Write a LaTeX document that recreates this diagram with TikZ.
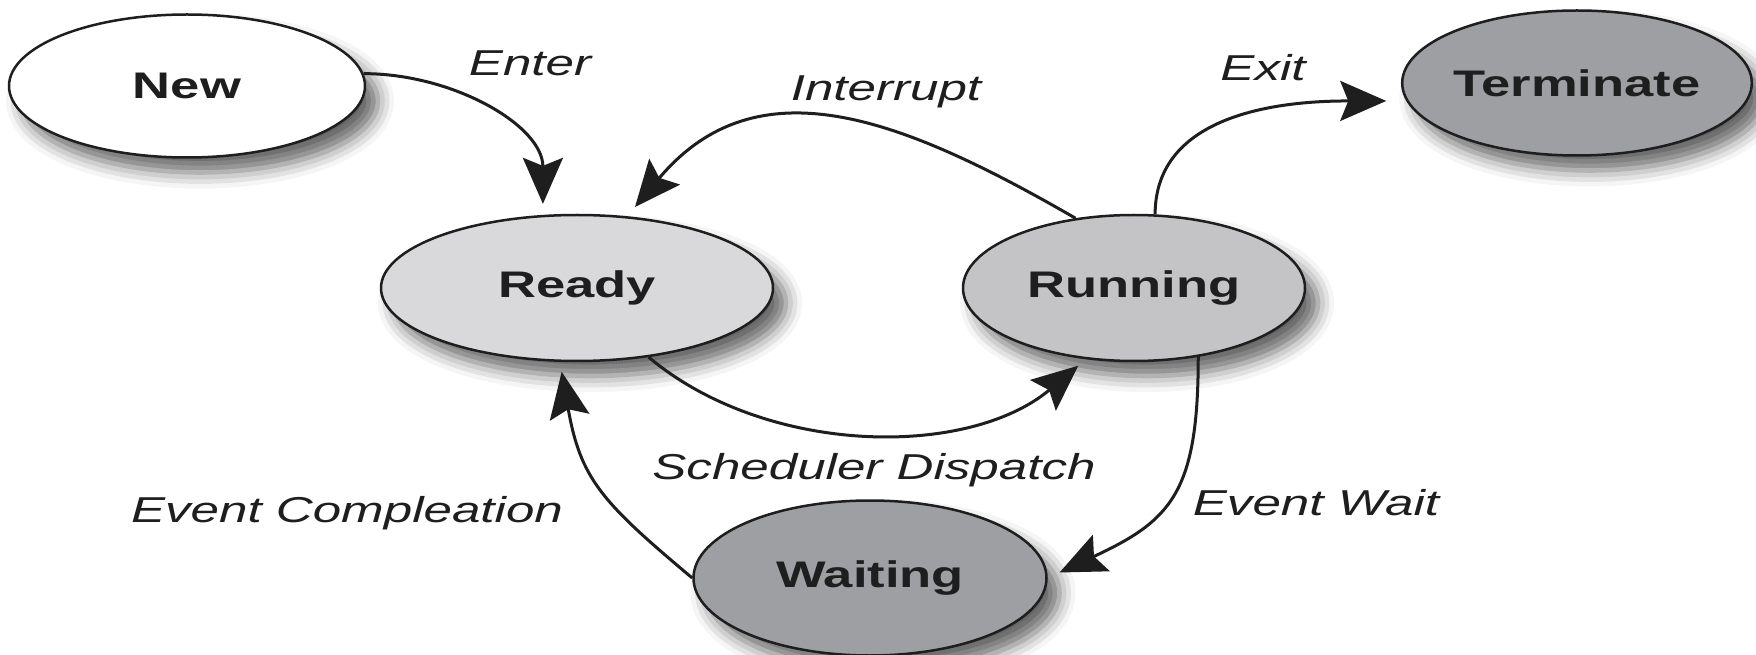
\documentclass[tikz,border=0pt]{standalone}
\usepackage{fontspec}
\setmainfont{Liberation Sans}[FakeStretch=1.42]
\usepackage{tikz}
\usetikzlibrary{arrows.meta,shapes.geometric,shadows.blur}
\definecolor{pstlight}{HTML}{D9D9DB}
\definecolor{pstmid}{HTML}{C4C4C7}
\definecolor{pstdark}{HTML}{9E9FA3}
\definecolor{pstink}{HTML}{1E1E1E}

\begin{document}
\begin{tikzpicture}[x=1pt,y=1pt, every node/.style={font=\fontsize{36}{40}\selectfont,text=pstink}]
\tikzset{state/.style={ellipse,draw=pstink,line width=2.5pt,inner sep=0pt,font=\fontsize{37}{40}\selectfont\bfseries,blur shadow={shadow xshift=13pt,shadow yshift=-15pt,shadow blur radius=16pt,shadow opacity=60}}, trans/.style={font=\fontsize{36}{40}\selectfont\itshape,anchor=base}, flow/.style={-{Stealth[length=46pt,width=40pt,inset=8pt]},line width=3pt,draw=pstink}}
\useasboundingbox (0,0) rectangle (1756,654);
\node[state,fill=white,minimum width=356pt,minimum height=143pt] (new) at (187,568) {New};
\node[state,fill=pstdark,minimum width=345pt,minimum height=145pt] (term) at (1577,571) {Terminate};
\node[state,fill=pstlight,minimum width=392pt,minimum height=146pt] (ready) at (577,366) {Ready};
\node[state,fill=pstmid,minimum width=342pt,minimum height=146pt] (run) at (1134,366) {Running};
\node[state,fill=pstdark,minimum width=353pt,minimum height=155pt] (wait) at (870,76) {Waiting};
\node[trans] (lenter) at (530,578) {Enter};
\node[trans] (lint) at (886,553) {Interrupt};
\node[trans] (lexit) at (1263,573) {Exit};
\node[trans] (ldisp) at (874,175) {Scheduler Dispatch};
\node[trans] (lcompl) at (347,132) {Event Compleation};
\node[trans] (lwait) at (1316,139) {Event Wait};
\draw[flow,shorten >=11pt] (new.4) to[out=0,in=90] (ready.115);
\draw[flow,shorten >=12pt] (run.130) to[out=150,in=50,looseness=1.15] (ready.55);
\draw[flow,shorten >=20pt] (run.74) to[out=90,in=180] (term.186);
\draw[flow,shorten >=10pt] (ready.-44) to[out=-40,in=-140,looseness=0.9] (run.236);
\draw[flow,shorten >=10pt] (wait.west) to[out=140,in=-80,looseness=1.2] (ready.257);
\draw[flow,shorten >=13pt] (run.-47) to[out=-90,in=25,looseness=1.3] (wait.east);
\end{tikzpicture}
\end{document}
